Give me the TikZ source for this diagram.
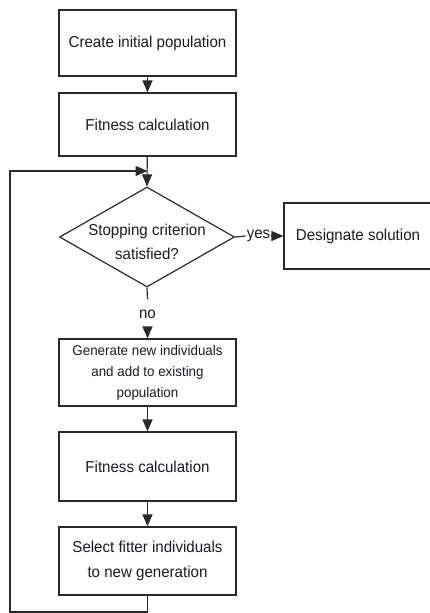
\documentclass[tikz,border=0pt]{standalone}
\usepackage{fontspec}
\setmainfont{Liberation Sans}[FakeStretch=0.955]
\usetikzlibrary{shapes.geometric,arrows.meta}
\definecolor{lncol}{HTML}{2A2A2A}
\definecolor{txcol}{HTML}{1A1A24}
\begin{document}
\begin{tikzpicture}[x=1pt,y=1pt,
  box/.style={draw=lncol, line width=1.2pt, minimum width=177pt, inner sep=0pt, align=center, text=txcol, font=\fontsize{15.8pt}{24.5pt}\selectfont},
  arr/.style={draw=lncol, line width=1.2pt, -{Triangle[length=12pt,width=10pt]}},
  conn/.style={draw=lncol, line width=1.2pt},
  lbl/.style={text=txcol, font=\fontsize{15.8pt}{24.5pt}\selectfont, inner sep=1pt, align=center}]
\useasboundingbox (0,0) rectangle (430,-613);
\node[box, minimum height=66pt] (b1) at (147.5,-43) {Create initial population};
\node[box, minimum height=63pt] (b2) at (147.5,-124.5) {Fitness calculation};
\node[draw=lncol, line width=1.2pt, diamond, minimum width=175pt, minimum height=100pt, inner sep=0pt] (dec) at (147,-237) {};
\node[lbl] (dectxt) at (147,-242) {Stopping criterion\\satisfied?};
\node[box, minimum width=148pt, minimum height=66pt] (ds) at (358,-236) {Designate solution};
\node[lbl] (yes) at (258.5,-236) {yes};
\node[lbl, minimum height=29pt, inner sep=0pt] (no) at (147.5,-314) {no};
\node[box, minimum height=67pt, font=\fontsize{14pt}{21pt}\selectfont] (b3) at (147.5,-372.5) {Generate new individuals\\and add to existing\\population};
\node[box, minimum height=69pt] (b4) at (147.5,-466.5) {Fitness calculation};
\node[box, minimum height=68pt] (b5) at (147.5,-561) {Select fitter individuals\\to new generation};
\coordinate (join) at (147.5,-171);
\coordinate (loopbot) at (147.5,-612);
\coordinate (loopleft) at (10,-171);

\draw[arr] (b1) -- (b2);
\draw[arr] (b2) -- (dec.north);
\draw[conn] (dec.east) -- (yes.west);
\draw[arr] (yes.east) -- (ds.west);
\draw[conn] (dec.south) -- (no.north);
\draw[arr] (no.south) -- (b3.north);
\draw[arr] (b3) -- (b4);
\draw[arr] (b4) -- (b5);
\draw[arr] (b5.south) -- (loopbot) -| (loopleft) -- (join);
\end{tikzpicture}
\end{document}
